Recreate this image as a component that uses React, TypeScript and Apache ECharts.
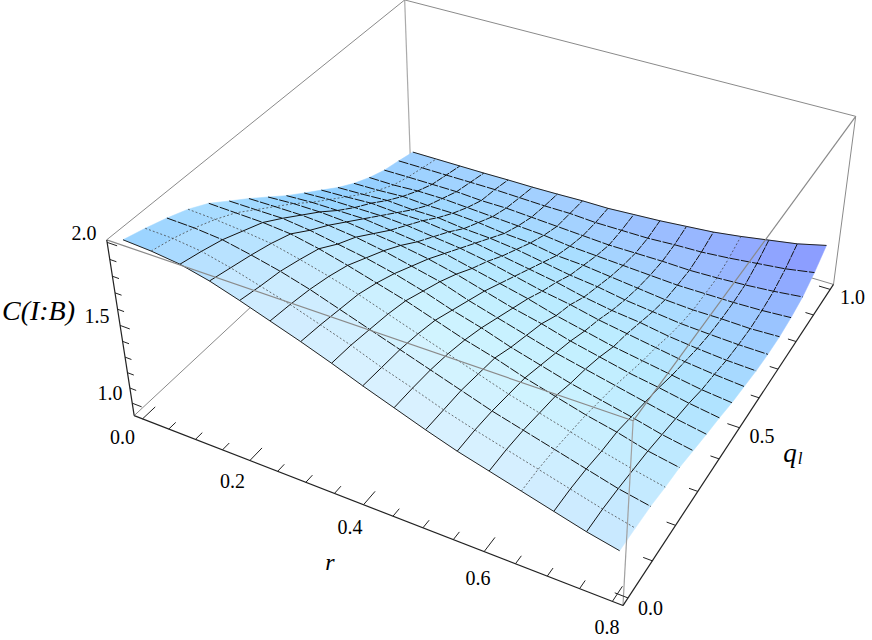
import React, { useEffect, useRef } from "react";
import * as echarts from "echarts";

// C(I:B): one row per q_l = j/16, one column per r = 0.05*i
const zRows: number[][] = [
  [2.0,1.99,1.97,1.93,1.875,1.815,1.755,1.69,1.62,1.555,1.49,1.43,1.38,1.33,1.28,1.23,1.19],
  [1.965,1.96,1.94,1.90,1.85,1.80,1.74,1.68,1.61,1.55,1.485,1.43,1.38,1.33,1.28,1.23,1.187],
  [1.925,1.92,1.905,1.87,1.83,1.78,1.72,1.66,1.60,1.54,1.48,1.42,1.37,1.32,1.27,1.22,1.183],
  [1.878,1.87,1.855,1.835,1.795,1.75,1.70,1.64,1.58,1.52,1.46,1.40,1.35,1.30,1.25,1.205,1.166],
  [1.815,1.81,1.805,1.79,1.755,1.71,1.66,1.61,1.55,1.49,1.44,1.38,1.33,1.28,1.24,1.19,1.156],
  [1.731,1.73,1.73,1.71,1.68,1.65,1.61,1.56,1.50,1.45,1.39,1.34,1.29,1.25,1.21,1.165,1.132],
  [1.648,1.65,1.65,1.64,1.62,1.59,1.55,1.51,1.45,1.40,1.35,1.30,1.26,1.22,1.18,1.14,1.108],
  [1.56,1.57,1.57,1.56,1.54,1.52,1.49,1.45,1.40,1.35,1.31,1.26,1.22,1.18,1.15,1.115,1.087],
  [1.471,1.48,1.48,1.48,1.46,1.44,1.42,1.38,1.34,1.30,1.25,1.21,1.17,1.14,1.11,1.08,1.061],
  [1.391,1.40,1.40,1.40,1.39,1.37,1.35,1.32,1.28,1.24,1.21,1.17,1.14,1.11,1.08,1.06,1.045],
  [1.313,1.32,1.33,1.32,1.32,1.30,1.28,1.25,1.22,1.19,1.15,1.12,1.10,1.07,1.05,1.035,1.028],
  [1.234,1.24,1.25,1.24,1.24,1.22,1.21,1.19,1.16,1.13,1.11,1.08,1.06,1.04,1.03,1.022,1.02],
  [1.166,1.17,1.18,1.17,1.17,1.16,1.14,1.13,1.10,1.09,1.07,1.05,1.03,1.02,1.02,1.015,1.022],
  [1.111,1.11,1.12,1.12,1.11,1.10,1.09,1.08,1.06,1.05,1.04,1.03,1.02,1.02,1.02,1.025,1.037],
  [1.068,1.07,1.07,1.07,1.06,1.06,1.05,1.04,1.03,1.02,1.02,1.02,1.015,1.02,1.03,1.045,1.066],
  [1.04,1.04,1.04,1.04,1.04,1.035,1.03,1.03,1.02,1.02,1.02,1.03,1.035,1.05,1.07,1.09,1.122],
  [1.01,1.01,1.01,1.01,1.012,1.012,1.015,1.02,1.02,1.03,1.04,1.055,1.07,1.095,1.125,1.155,1.2],
];
const N = zRows.length - 1;

const rTicks = [0,0.05,0.1,0.15,0.2,0.25,0.3,0.35,0.4,0.45,0.5,0.55,0.6,0.65,0.7,0.75,0.8];
const qTicks = [0,0.1,0.2,0.3,0.4,0.5,0.6,0.7,0.8,0.9,1];
const zTicks = [1,1.1,1.2,1.3,1.4,1.5,1.6,1.7,1.8,1.9,2];
const labels: [string, number, number][] = [
  ["2.0",84,233],["1.5",97,316],["1.0",110,393],
  ["0.0",122.5,436.5],["0.2",232.5,481],["0.4",350,527],["0.6",478,578],["0.8",607,626.5],
  ["0.0",650.5,607.5],["0.5",762,435.5],["1.0",852.5,296.5],
];

const R0=-0.016,R1=0.816,Q0=-0.02,Q1=1.02,Z0=0.917,Z1=2.015;
const corners: [number,number,number,number,number][] = [
  [0,0,0,134.3,415.7],[1,0,0,622.7,606],[1,1,0,833.3,284.3],[0,1,0,410.6,158.3],
  [0,0,1,106.7,240],[1,0,1,633.3,420],[1,1,1,856,116.7],[0,1,1,404.3,0],
];
function solveCam(): number[] {
  const A: number[][] = Array.from({length:11},()=>new Array(12).fill(0));
  const add=(r:number[],b:number)=>{for(let a=0;a<11;a++){for(let c=0;c<11;c++)A[a][c]+=r[a]*r[c];A[a][11]+=r[a]*b;}};
  for(const [u,v,w,x,y] of corners){
    add([u,v,w,1,0,0,0,0,-u*x,-v*x,-w*x],x);
    add([0,0,0,0,u,v,w,1,-u*y,-v*y,-w*y],y);
  }
  for(let c=0;c<11;c++){
    let p=c;for(let r=c+1;r<11;r++)if(Math.abs(A[r][c])>Math.abs(A[p][c]))p=r;
    [A[c],A[p]]=[A[p],A[c]];
    for(let r=0;r<11;r++)if(r!==c){const f=A[r][c]/A[c][c];for(let k=c;k<12;k++)A[r][k]-=f*A[c][k];}
  }
  return A.map((row,i)=>row[11]/row[i]);
}
const cam=solveCam();
function project(r:number,q:number,z:number):[number,number]{
  const u=(r-R0)/(R1-R0),v=(q-Q0)/(Q1-Q0),w=(z-Z0)/(Z1-Z0);
  const d=cam[8]*u+cam[9]*v+cam[10]*w+1;
  return [(cam[0]*u+cam[1]*v+cam[2]*w+cam[3])/d,(cam[4]*u+cam[5]*v+cam[6]*w+cam[7])/d];
}
const hex=(s:string)=>[parseInt(s.slice(1,3),16),parseInt(s.slice(3,5),16),parseInt(s.slice(5,7),16)];
const ramp=[
 ["#93CFFF","#CFEBFF","#DBF1FF","#D8F0FF","#C8E8FF"],
 ["#A6DBFF","#C2EAFF","#D0F4FF","#CDF3FF","#BEE9FF"],
 ["#8FD0FF","#ABE0FF","#BBEBFF","#BFEEFF","#ABE0FF"],
 ["#92CFFF","#A3DBFF","#ABE2FF","#ABDCFF","#9AC8FF"],
 ["#A0D0FF","#A5D2FF","#A0C8FF","#94AEFF","#8894FF"],
].map(r=>r.map(hex));
function cellColor(s:number,t:number){
  const a=Math.min(3.999,s*4),b=Math.min(3.999,t*4),ia=Math.floor(a),ib=Math.floor(b),fa=a-ia,fb=b-ib;
  const c=[0,1,2].map(k=>(1-fb)*((1-fa)*ramp[ib][ia][k]+fa*ramp[ib][ia+1][k])+fb*((1-fa)*ramp[ib+1][ia][k]+fa*ramp[ib+1][ia+1][k]));
  return `rgb(${c.map(Math.round).join(",")})`;
}
const rOf=(i:number)=>i*0.05, qOf=(j:number)=>j/N;
const dottedR=new Set([1,13]), dottedQ=new Set([1,3]);
const GRAY="#8a8a8a";

const FONT="'Liberation Serif','Times New Roman',serif";
export default function App(){
  const ref=useRef<HTMLDivElement>(null);
  useEffect(()=>{
    const chart=echarts.init(ref.current!,undefined,{renderer:"svg"});
    const pts=(api:any,list:[number,number][])=>list.map(p=>api.coord(p));
    const line=(api:any,a:[number,number,number],b:[number,number,number],stroke:string,w:number)=>({
      type:"line",shape:(()=>{const [p,q]=pts(api,[project(...a),project(...b)]);return{x1:p[0],y1:p[1],x2:q[0],y2:q[1]};})(),style:{stroke,lineWidth:w}
    });
    const cells:number[][]=[];
    for(let i=0;i<N;i++)for(let j=N-1;j>=0;j--)cells.push([i,j]);
    const meshes:number[][]=[];
    for(let k=1;k<N;k++){meshes.push([0,k]);meshes.push([1,k]);}
    const base:any={type:"custom",coordinateSystem:"cartesian2d",silent:true,clip:false};
    chart.setOption({
      animation:false,
      grid:{left:0,right:0,top:0,bottom:0},
      xAxis:{type:"value",min:0,max:872,show:false},
      yAxis:{type:"value",min:0,max:640,inverse:true,show:false},
      series:[
        {...base,z:1,data:[[0,0]],renderItem:(_:any,api:any)=>({type:"group",children:[
          line(api,[R0,Q1,Z0],[R0,Q1,Z1],"#aaaaaa",1.2),
          line(api,[R0,Q0,Z1],[R0,Q1,Z1],GRAY,1),
          line(api,[R0,Q1,Z1],[R1,Q1,Z1],GRAY,1),
          line(api,[R1,Q1,Z0],[R1,Q1,Z1],GRAY,1),
          line(api,[R0,Q0,Z0],[R0,Q1,Z0],GRAY,1),
          line(api,[R0,Q1,Z0],[R1,Q1,Z0],GRAY,1),
        ]})},
        {...base,z:2,data:cells,renderItem:(_:any,api:any)=>{
          const i=api.value(0),j=api.value(1);
          const P=(a:number,b:number)=>project(rOf(a),qOf(b),zRows[b][a]);
          const c=cellColor((i+.5)/N,(j+.5)/N);
          return{type:"polygon",shape:{points:pts(api,[P(i,j),P(i+1,j),P(i+1,j+1),P(i,j+1)])},style:{fill:c,stroke:c,lineWidth:0.5}};
        }},
        {...base,z:3,data:meshes,renderItem:(_:any,api:any)=>{
          const dir=api.value(0),k=api.value(1);
          const at=(m:number):[number,number]=>dir===0?project(rOf(k),qOf(m),zRows[m][k]):project(rOf(m),qOf(k),zRows[k][m]);
          const dotted=dir===0?dottedR.has(k):dottedQ.has(k);
          const run=(a:number,b:number,dash:any,w:number)=>{const l:[number,number][]=[];for(let m=a;m<=b;m++)l.push(at(m));return{type:"polyline",shape:{points:pts(api,l)},style:{fill:"none",stroke:dotted?"#333":"#111",lineWidth:w,lineDash:dash}};};
          if(dotted)return{type:"group",children:[run(0,N,[2,2],0.7)]};
          if(dir===0)return{type:"group",children:[run(0,8,undefined,1),run(8,N,[7,1],1)]};
          return{type:"group",children:[run(0,N,[10,1.5],1)]};
        }},
        {...base,z:4,data:[[0,0]],renderItem:(_:any,api:any)=>{
          const edge=(list:[number,number][])=>({type:"polyline",shape:{points:pts(api,list)},style:{fill:"none",stroke:"#222",lineWidth:1}});
          const ch:any[]=[];
          const e:[number,number][]=[];for(let m=0;m<=N;m++)e.push(project(rOf(m),0,zRows[0][m]));ch.push(edge(e));
          const e2:[number,number][]=[];for(let m=0;m<=N;m++)e2.push(project(rOf(m),1,zRows[N][m]));ch.push(edge(e2));
          ch.push(line(api,[R0,Q0,Z1],[R1,Q0,Z1],GRAY,1.2));
          ch.push(line(api,[R1,Q0,Z1],[R1,Q1,Z1],GRAY,1.2));
          ch.push(line(api,[R1,Q0,Z0],[R1,Q0,Z1],"#a0a0a0",1.2));
          ch.push(line(api,[R0,Q0,Z0],[R1,Q0,Z0],"#222",1.2));
          ch.push(line(api,[R1,Q0,Z0],[R1,Q1,Z0],"#222",1.2));
          ch.push(line(api,[R0,Q0,Z0],[R0,Q0,Z1],"#222",1.2));
          rTicks.forEach((r,k)=>{const l=k%4===0?0.04:0.022;ch.push(line(api,[r,Q0,Z0],[r,Q0+l,Z0],"#222",1));});
          qTicks.forEach((q,k)=>{const l=k%5===0?0.02:0.014;ch.push(line(api,[R1,q,Z0],[R1-l,q,Z0],"#222",1));});
          zTicks.forEach((z,k)=>{const l=k%5===0?0.018:0.012;ch.push(line(api,[R0,Q0,z],[R0+l,Q0,z],"#222",1));});
          const T=(text:string,x:number,y:number,size:number,style:string)=>{const c=api.coord([x,y]);return{type:"text",style:{text,x:c[0],y:c[1],fill:"#000",fontFamily:FONT,fontSize:size,fontStyle:style,align:"center",verticalAlign:"middle"}};};
          labels.forEach(([t,x,y])=>ch.push(T(t,x,y,20,"normal")));
          ch.push(T("C(I:B)",38.5,310,28,"italic"));
          ch.push(T("r",330,562,24,"italic"));
          ch.push(T("q",790,453,27,"italic"));
          ch.push(T("l",800,458,17,"italic"));
          return{type:"group",children:ch};
        }},
      ],
    });
    return()=>chart.dispose();
  },[]);
  return <div ref={ref} style={{position:"fixed",left:0,top:0,width:872,height:640,background:"#fff"}}/>;
}
